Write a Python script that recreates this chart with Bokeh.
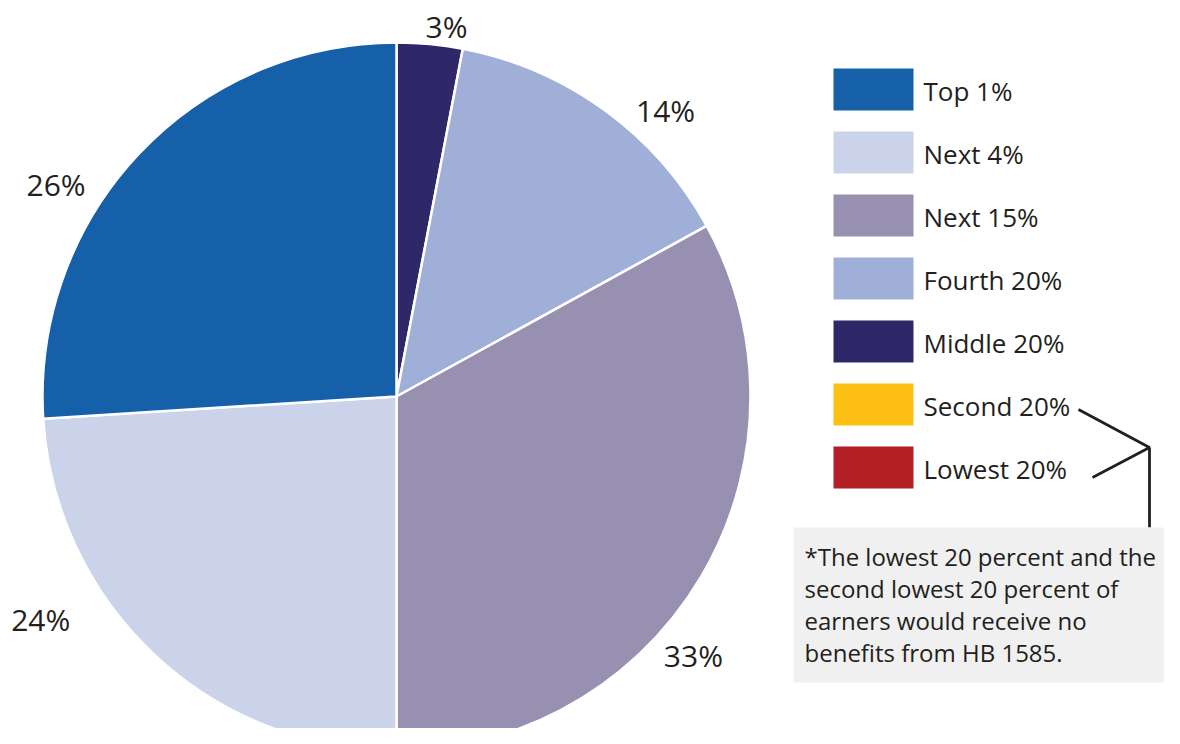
import math
from bokeh.plotting import figure
from bokeh.models import Range1d, ColumnDataSource
from bokeh.core.properties import value
from bokeh.embed import file_html
from bokeh.resources import INLINE

# ---------------- data ----------------
categories = ["Top 1%", "Next 4%", "Next 15%", "Fourth 20%", "Middle 20%", "Second 20%", "Lowest 20%"]
shares = [26, 24, 33, 14, 3, 0, 0]
colors = ["#1660a9", "#cbd3ea", "#9890b0", "#9fafd8", "#2e2868", "#fdbf13", "#b21f24"]
footnote_lines = [
    "*The lowest 20 percent and the",
    "second lowest 20 percent of",
    "earners would receive no",
    "benefits from HB 1585.",
]

# ---------------- layout ----------------
W, H = 1164, 728
PAGE_H = 744
FONT = "Open Sans"
TXT = "#231f20"

def Y(y):  # convert page (top-down) pixel to data y
    return PAGE_H - y

p = figure(width=W, height=H, output_backend="svg", toolbar_location=None,
           x_range=Range1d(0, W), y_range=Range1d(Y(H), Y(0)),
           min_border=0, outline_line_color=None)
p.axis.visible = False
p.grid.visible = False
p.background_fill_color = "white"
p.border_fill_color = "white"

# ---------------- pie ----------------
cx, cy, R = 396, Y(396), 354
order = list(range(len(categories)))[::-1]  # clockwise from top: reverse of legend order
total = float(sum(shares))
starts, ends, cols, names = [], [], [], []
cum = 0.0
mids = {}
for i in order:
    s = shares[i]
    if s <= 0:
        continue
    a0 = math.pi / 2 - 2 * math.pi * cum / total
    cum += s
    a1 = math.pi / 2 - 2 * math.pi * cum / total
    starts.append(a1)
    ends.append(a0)
    cols.append(colors[i])
    names.append(categories[i])
    mids[i] = (a0 + a1) / 2

src = ColumnDataSource(dict(start=starts, end=ends, color=cols, name=names))
p.wedge(x=cx, y=cy, radius=R, start_angle="start", end_angle="end",
        direction="anticlock", fill_color="color", line_color="white",
        line_width=2.5, source=src)

# percentage labels: polar nudges (deg, clockwise) and radii from the slice mid-angle
label_nudge_deg = {4: 2.3, 3: 7.2, 2: 10.5, 1: 14.7, 0: -11.3}
label_radius = {4: 373, 3: 393, 2: 394, 1: 420, 0: 401}
lx, ly, lt = [], [], []
for i, m in mids.items():
    a = m - math.radians(label_nudge_deg[i])
    r = label_radius[i]
    lx.append(cx + r * math.cos(a))
    ly.append(cy + r * math.sin(a))
    lt.append(f"{shares[i]}%")
p.text(x=lx, y=ly, text=lt, text_font=value(FONT), text_font_size="30px",
       text_color=TXT, text_align="center", text_baseline="middle")

# ---------------- legend ----------------
leg_x0, leg_top, box_w, box_h, pitch = 833, 68, 80, 42, 63
bx, by = [], []
for k in range(len(categories)):
    bx.append(leg_x0 + box_w / 2)
    by.append(Y(leg_top + k * pitch + box_h / 2))
p.rect(x=bx, y=by, width=box_w, height=box_h, fill_color=colors, line_color=None)
p.text(x=[923] * len(categories), y=[v - 1 for v in by], text=categories,
       text_font=value(FONT), text_font_size="26px", text_color=TXT,
       text_align="left", text_baseline="middle")

# bracket
p.line(x=[1078, 1149, 1092], y=[Y(409), Y(447), Y(477)], line_color=TXT, line_width=2.8)
p.line(x=[1149, 1149], y=[Y(447), Y(527)], line_color=TXT, line_width=2.8)

# footnote box
p.quad(left=793, right=1200, top=Y(527), bottom=Y(682), fill_color="#f0f0f1", line_color=None)
p.text(x=[804] * len(footnote_lines), y=[Y(556 + 32 * k) for k in range(len(footnote_lines))],
       text=footnote_lines, text_font=value(FONT), text_font_size="24px", text_color=TXT,
       text_align="left", text_baseline="middle")

open("out.html", "w").write(file_html(p, INLINE))
